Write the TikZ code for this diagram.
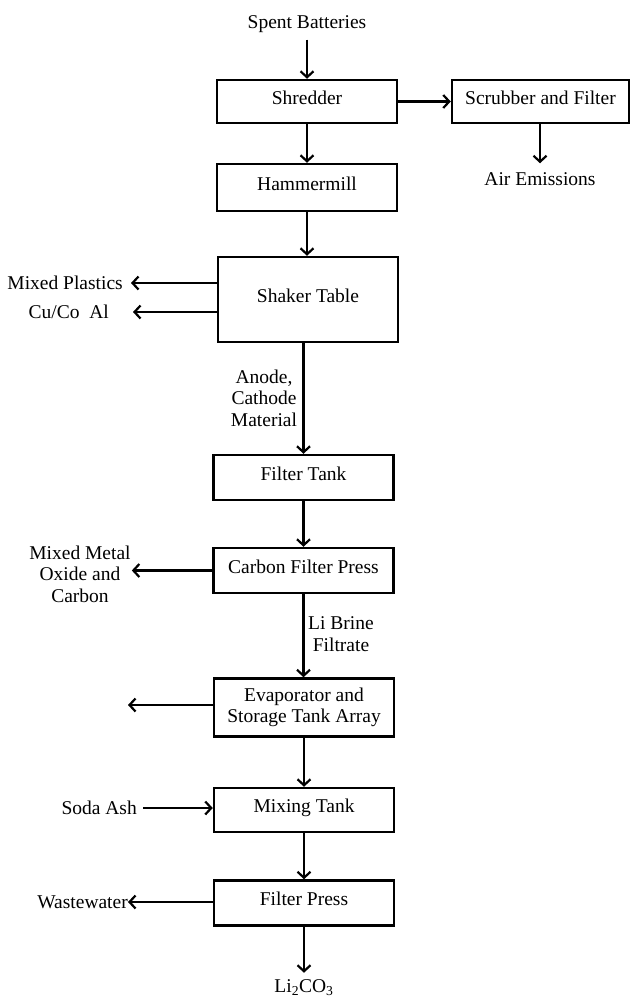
\documentclass[tikz,border=0pt]{standalone}
\usepackage{fontspec}
\setmainfont{Liberation Serif}
\usetikzlibrary{arrows.meta}
\newcommand{\figfont}{\fontsize{19.5}{21.5}\selectfont}
\begin{document}
\begin{tikzpicture}[x=1pt,y=-1pt,
  boxbase/.style={draw, line width=2.5pt, minimum width=180pt, inner sep=0pt, font=\figfont, align=center},
  box/.style={boxbase, text height=13pt, text depth=8pt},
  lbl/.style={font=\figfont, inner sep=0pt, align=center},
  arr/.style={line width=2.2pt, -{Straight Barb[length=6pt,width=13pt,line width=2.2pt]}}]
\useasboundingbox (0,0) rectangle (630,999);

% process boxes
\node[box, minimum height=43pt] (shred) at (307,101.5) {Shredder};
\node[box, minimum width=177pt, minimum height=43pt] (scrub) at (540.5,101.5) {Scrubber and Filter};
\node[box, minimum height=47pt] (hammer) at (307,187.5) {Hammermill};
\node[box, minimum height=85pt] (shaker) at (308,299.5) {Shaker Table};
\node[box, minimum height=45pt] (ftank) at (303.5,477.5) {Filter Tank};
\node[box, minimum height=45pt] (cfp) at (303.5,570.5) {Carbon Filter Press};
\node[boxbase, minimum height=58pt] (evap) at (304,707.5) {Evaporator and\\Storage Tank Array};
\node[box, minimum height=44pt] (mix) at (304,810) {Mixing Tank};
\node[box, minimum height=45pt] (fpress) at (304,903) {Filter Press};

% free labels
\node[lbl] (sb) at (307,24) {Spent Batteries};
\node[lbl] (air) at (540,179) {Air Emissions};
\node[lbl, anchor=east] (mp) at (123,283) {Mixed Plastics};
\node[lbl, anchor=east] (cu) at (109,312) {Cu/Co\ \ Al};
\node[lbl] (anode) at (264,398) {Anode,\\Cathode\\Material};
\node[lbl] (mmo) at (80,574) {Mixed Metal\\Oxide and\\Carbon};
\node[lbl] (li) at (341,634) {Li Brine\\Filtrate};
\coordinate (evout) at (128,705);
\node[lbl, anchor=east] (soda) at (137,808) {Soda Ash};
\node[lbl, anchor=east] (ww) at (128,902) {Wastewater};
\node[lbl] (prod) at (304,988) {Li\textsubscript{2}CO\textsubscript{3}};

% connectors
\draw[arr, shorten <=7pt] (sb.south) -- (shred.north);
\draw[arr] (shred.east) -- (scrub.west);
\draw[arr, shorten >=9pt] (scrub.south -| air.north) -- (air.north);
\draw[arr] (shred.south) -- (hammer.north);
\draw[arr] (hammer.south) -- (hammer.south |- shaker.north);
\draw[arr, shorten >=8pt] (shaker.west |- mp.east) -- (mp.east);
\draw[arr, shorten >=24pt] (shaker.west |- cu.east) -- (cu.east);
\draw[arr] (ftank.north |- shaker.south) -- (ftank.north);
\draw[arr] (ftank.south) -- (cfp.north);
\draw[arr, shorten >=1pt] (cfp.west) -- (cfp.west -| mmo.east);
\draw[arr] (cfp.south) -- (cfp.south |- evap.north);
\draw[arr] (evap.west |- evout) -- (evout);
\draw[arr] (evap.south) -- (mix.north);
\draw[arr, shorten <=6pt] (soda.east) -- (mix.west |- soda.east);
\draw[arr] (mix.south) -- (fpress.north);
\draw[arr] (fpress.west |- ww.east) -- (ww.east);
\draw[arr, shorten >=7pt] (fpress.south) -- (prod.north);
\end{tikzpicture}
\end{document}
